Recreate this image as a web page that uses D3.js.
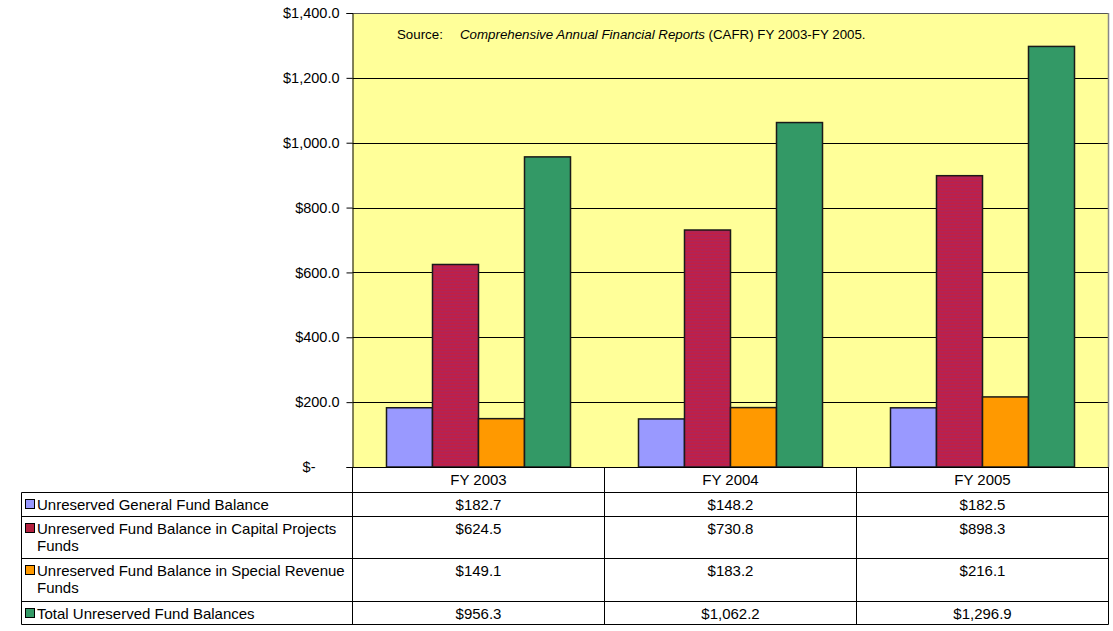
<!DOCTYPE html>
<html><head><meta charset="utf-8">
<script src="https://cdn.jsdelivr.net/npm/d3@7"></script>
<style>body{margin:0;background:#fff}svg{display:block;font-family:"Liberation Sans",Arial,sans-serif}</style>
</head><body>
<svg id="c" width="1113" height="631"></svg>
<script>
const categories = ["FY 2003", "FY 2004", "FY 2005"];
const seriesNames = [
  "Unreserved General Fund Balance",
  "Unreserved Fund Balance in Capital Projects Funds",
  "Unreserved Fund Balance in Special Revenue Funds",
  "Total Unreserved Fund Balances"
];
const seriesLines = [
  ["Unreserved General Fund Balance"],
  ["Unreserved Fund Balance in Capital Projects", "Funds"],
  ["Unreserved Fund Balance in Special Revenue", "Funds"],
  ["Total Unreserved Fund Balances"]
];
const generalFund = [182.7, 148.2, 182.5];
const capitalProjects = [624.5, 730.8, 898.3];
const specialRevenue = [149.1, 183.2, 216.1];
const totalBalances = [956.3, 1062.2, 1296.9];
const seriesValues = [generalFund, capitalProjects, specialRevenue, totalBalances];
const yTicks = [0, 200, 400, 600, 800, 1000, 1200, 1400];
const colors = ["#9999FF", "url(#redPat)", "#FF9900", "#339966"];
const keyColors = ["#9999FF", "#B3203F", "#FF9900", "#339966"];

const svg = d3.select("#c");
const defs = svg.append("defs");
const pat = defs.append("pattern").attr("id","redPat").attr("patternUnits","userSpaceOnUse")
  .attr("width",4).attr("height",3);
pat.append("rect").attr("width",4).attr("height",3).attr("fill","#C41E42");
pat.append("path").attr("d","M0,1.5 L1,0.5 L2,1.5 L3,0.5 L4,1.5").attr("stroke","#8A2A78").attr("stroke-width",0.8).attr("fill","none");

const L = 352.5, R = 1108.5, T = 13, B = 467;
const FS = 15;
const x0 = d3.scaleBand().domain(categories).range([L, R]).paddingInner(0).paddingOuter(0);
const x1 = d3.scaleBand().domain(seriesNames).range([0, x0.bandwidth()]).paddingInner(0).paddingOuter(0.739);
const y = d3.scaleLinear().domain([0, 1400]).range([B, T]);

// plot background
svg.append("rect").attr("x", L).attr("y", T).attr("width", R - L).attr("height", B - T).attr("fill", "#FFFF99");

// gridlines
svg.append("g").selectAll("line").data(yTicks.filter(d => d > 0)).join("line")
  .attr("x1", L).attr("x2", R).attr("y1", d => Math.round(y(d)) + 0.5).attr("y2", d => Math.round(y(d)) + 0.5)
  .attr("stroke", d => d === 1400 ? "#555" : "#000").attr("stroke-width", 1);

// source note
const src = svg.append("text").attr("x", 397).attr("y", 39).attr("font-size", 13.3).attr("fill", "#000");
src.append("tspan").text("Source:");
src.append("tspan").attr("x", 460).attr("font-style", "italic").text("Comprehensive Annual Financial Reports");
src.append("tspan").text(" (CAFR) FY 2003-FY 2005.");

// bars
const groups = svg.append("g").selectAll("g").data(categories).join("g")
  .attr("transform", d => `translate(${x0(d)},0)`);
groups.selectAll("rect").data((c, i) => seriesNames.map((s, j) => ({s, j, v: seriesValues[j][i]}))).join("rect")
  .attr("x", d => x1(d.s)).attr("width", x1.bandwidth())
  .attr("y", d => y(d.v)).attr("height", d => B - y(d.v))
  .attr("fill", d => colors[d.j]).attr("stroke", "#1a1a1a").attr("stroke-width", 1.5);

// right border
svg.append("line").attr("x1", R).attr("x2", R).attr("y1", T).attr("y2", B).attr("stroke", "#888").attr("stroke-width", 1.5);

// y axis
const yAxis = d3.axisLeft(y).tickValues(yTicks).tickSize(6).tickPadding(7)
  .tickFormat(d => d === 0 ? "$-" : "$" + d3.format(",.1f")(d));
const ga = svg.append("g").attr("transform", `translate(${L},0)`).call(yAxis);
ga.select(".domain").attr("stroke", "#000");
ga.selectAll(".tick line").attr("stroke", "#000");
ga.selectAll(".tick text").attr("font-size", 14.5).attr("fill", "#000").attr("font-family", "Liberation Sans, Arial, sans-serif")
  .attr("dx", d => d === 0 ? -24 : 0);

// data table
const rowTops = [492, 516, 558, 601, 624];
const tbl = svg.append("g").attr("stroke", "#000").attr("stroke-width", 1).attr("fill", "none");
tbl.append("line").attr("x1", L).attr("x2", R).attr("y1", B + 0.5).attr("y2", B + 0.5);
rowTops.forEach(yy => tbl.append("line").attr("x1", 21.5).attr("x2", R).attr("y1", yy + 0.5).attr("y2", yy + 0.5));
tbl.append("line").attr("x1", 21.5).attr("x2", 21.5).attr("y1", 492.5).attr("y2", 624.5);
categories.forEach(c => {
  tbl.append("line").attr("x1", x0(c) + x0.bandwidth()).attr("x2", x0(c) + x0.bandwidth()).attr("y1", B).attr("y2", 624.5);
});
tbl.append("line").attr("x1", L).attr("x2", L).attr("y1", B).attr("y2", 624.5);

// header labels
svg.append("g").selectAll("text").data(categories).join("text")
  .attr("x", d => x0(d) + x0.bandwidth() / 2).attr("y", 484.5).attr("text-anchor", "middle")
  .attr("font-size", FS).attr("fill", "#000").text(d => d);

// row labels and values
seriesNames.forEach((s, j) => {
  const top = rowTops[j];
  svg.append("rect").attr("x", 25.5).attr("y", top + 7.5).attr("width", 9).attr("height", 9)
    .attr("fill", keyColors[j]).attr("stroke", "#000").attr("stroke-width", 1);
  seriesLines[j].forEach((ln, k) => {
    svg.append("text").attr("x", 37).attr("y", top + 17.5 + k * 17).attr("font-size", FS).attr("fill", "#000").text(ln);
  });
  categories.forEach((c, i) => {
    svg.append("text").attr("x", x0(c) + x0.bandwidth() / 2).attr("y", top + 17.5).attr("text-anchor", "middle")
      .attr("font-size", FS).attr("fill", "#000").text("$" + d3.format(",.1f")(seriesValues[j][i]));
  });
});
</script>
</body></html>
